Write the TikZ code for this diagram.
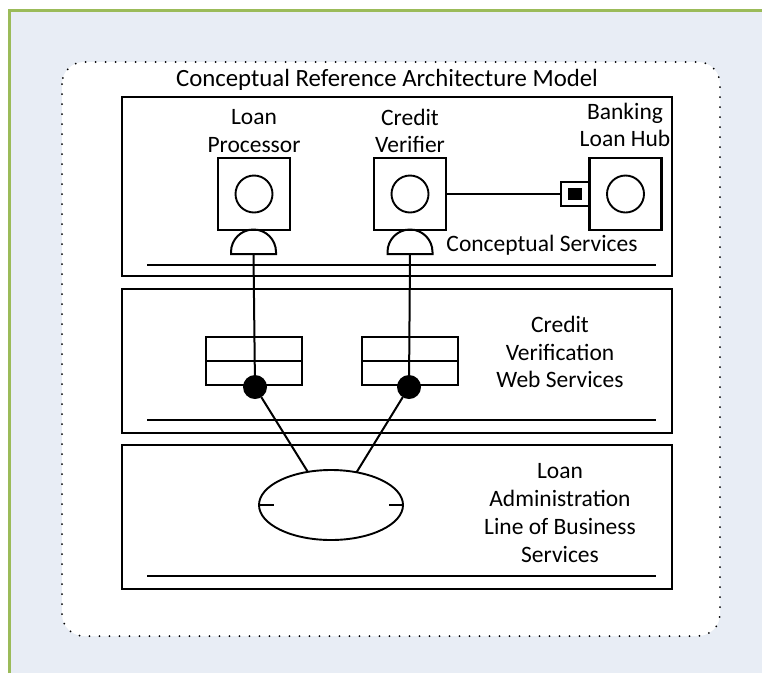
\documentclass[tikz,border=0pt]{standalone}
\usepackage{fontspec}
\setmainfont{Carlito}
\usetikzlibrary{shapes.geometric}
\definecolor{bgc}{RGB}{232,237,245}
\definecolor{grn}{RGB}{155,187,89}
\begin{document}
\begin{tikzpicture}[x=1pt,y=-1pt,
  every node/.style={inner sep=0pt, outer sep=0pt},
  lbl/.style={font=\fontsize{23.5}{27.8}\selectfont, align=center},
  layer/.style={draw, line width=2.2pt, minimum width=550pt, anchor=north west},
  comp/.style={draw, line width=2.2pt, minimum size=72pt},
  core/.style={draw, circle, line width=1.9pt, minimum size=37pt},
  wire/.style={line width=2pt},
  dot/.style={circle, fill=black, minimum size=24pt},
  wsb/.style={draw, line width=1.9pt, minimum width=96pt, minimum height=48pt},
  port/.style={draw, line width=1.9pt, minimum width=28pt, minimum height=24pt},
  portin/.style={fill=black, minimum width=14pt, minimum height=12pt},
  cont/.style={draw, fill=white, line width=2pt, dash pattern=on 0pt off 10pt, line cap=round, rounded corners=22pt}
]
\path[use as bounding box] (0,0) rectangle (762,673);
\fill[white] (0,0) rectangle (762,673);
\fill[bgc] (9,10) rectangle (762,673);
\draw[grn, line width=3pt] (9,673) -- (9,10) -- (762,10);

\draw[cont] (62,62) rectangle (720,636);
\node[lbl, font=\fontsize{24.8}{28}\selectfont] (title) at (387,80) {Conceptual Reference Architecture Model};

% layers
\node[layer, minimum height=179pt] (L1) at (122,97) {};
\draw[line width=2.4pt] ([xshift=25pt,yshift=11pt]L1.south west) -- ([xshift=-16pt,yshift=11pt]L1.south east);
\node[layer, minimum height=144pt] (L2) at (122,289) {};
\draw[line width=2.4pt] ([xshift=25pt,yshift=13pt]L2.south west) -- ([xshift=-16pt,yshift=13pt]L2.south east);
\node[layer, minimum height=144pt] (L3) at (122,445) {};
\draw[line width=2.4pt] ([xshift=25pt,yshift=13pt]L3.south west) -- ([xshift=-16pt,yshift=13pt]L3.south east);

% components
\node[comp] (lp) at (254,194) {};
\node[core] (lpc) at (lp.center) {};
\node[comp] (cv) at (410,194) {};
\node[core] (cvc) at (cv.center) {};
\node[comp] (blh) at (625.5,194) {};
\node[core] (blhc) at (blh.center) {};
\node[port] (pt) at (575,194) {};
\node[portin] (ptin) at (pt.center) {};

\node[lbl] (lpT) at (254,131) {Loan\\Processor};
\node[lbl] (cvT) at (410,131) {Credit\\Verifier};
\node[lbl] (blhT) at (625,125) {Banking\\Loan Hub};
\node[lbl] (csT) at (542,245) {Conceptual Services};

% provided interfaces (half discs)
\draw[wire] (231,254) -- (231,252) arc[start angle=180, end angle=0, radius=22.5pt] -- (276,254) -- cycle;
\coordinate (lpS) at (253.5,254);
\draw[wire] (387.5,254) -- (387.5,252) arc[start angle=180, end angle=0, radius=22.5pt] -- (432.5,254) -- cycle;
\coordinate (cvS) at (410,254);

\draw[wire] (cv.east) -- (pt.west);

% web services
\node[wsb] (ws1) at (254,361) {};
\draw[wire] (ws1.west) -- (ws1.east);
\node[wsb] (ws2) at (410,361) {};
\draw[wire] (ws2.west) -- (ws2.east);
\node[lbl] (wsT) at (560,352) {Credit\\Verification\\Web Services};

\node[dot] (d1) at (255,387) {};
\node[dot] (d2) at (409,387) {};
\draw[wire] (lpS) -- (d1.center);
\draw[wire] (cvS) -- (d2.center);

% line of business
\node[draw, ellipse, line width=1.9pt, minimum width=144pt, minimum height=70pt] (ell) at (331,505) {};
\draw[wire] (ell.west) -- ++(15,0);
\draw[wire] (ell.east) -- ++(-14,0);
\draw[wire] (d1) -- (ell.125);
\draw[wire] (d2) -- (ell.52);
\node[lbl] (laT) at (560,513) {Loan\\Administration\\Line of Business\\Services};
\end{tikzpicture}
\end{document}
